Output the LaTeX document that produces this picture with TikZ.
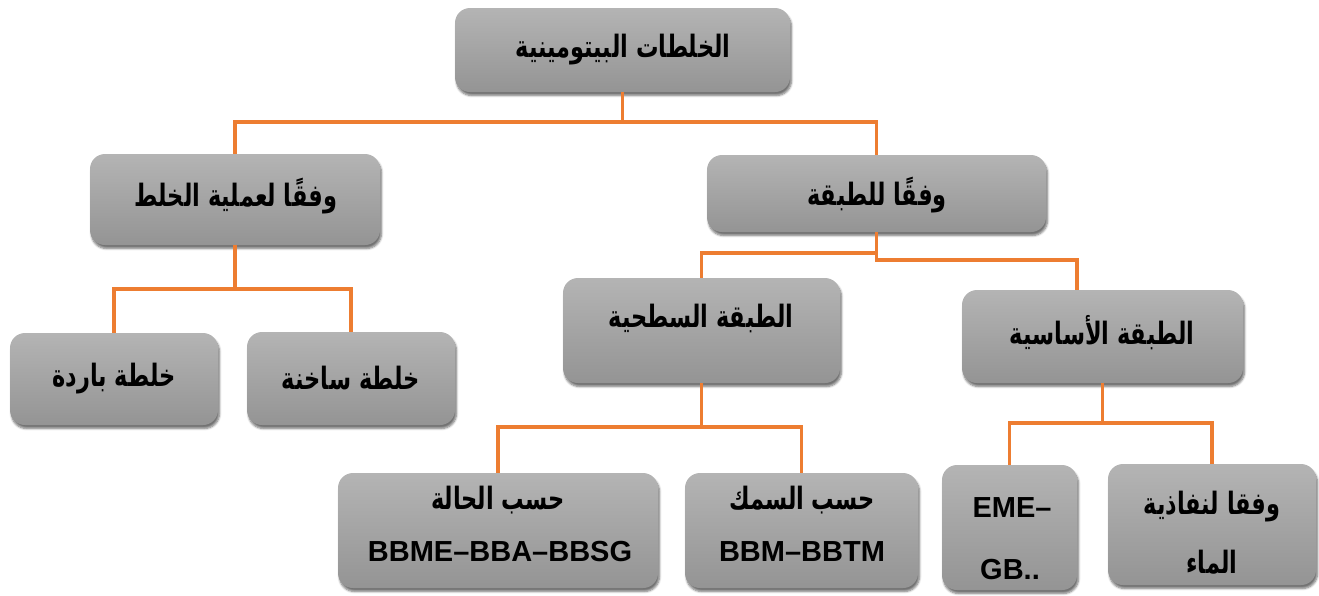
\documentclass[tikz,border=0pt]{standalone}
\usepackage{fontspec}
\setmainfont{Liberation Sans}
\newfontfamily\arabicfont[Script=Arabic]{DejaVu Sans}
\TeXXeTstate=1
\usetikzlibrary{shadows.blur}
\definecolor{linkorange}{RGB}{237,125,49}
\definecolor{boxtop}{RGB}{180,180,180}
\definecolor{boxbottom}{RGB}{148,148,148}
% Arabic label: bold, right to left, slightly taller letter forms
\newcommand{\ar}[1]{\scalebox{1.02}[1.4]{\arabicfont\bfseries\beginR #1\endR}}
\tikzset{
  card/.style={rounded corners=15pt, top color=boxtop, bottom color=boxbottom,
    draw=none, inner sep=0pt,
    blur shadow={shadow xshift=1.5pt, shadow yshift=-3.5pt, shadow blur steps=6, shadow opacity=55}},
  label/.style={font=\fontsize{22}{26}\selectfont, text=black, inner sep=0pt},
  latin/.style={font=\fontsize{29}{32}\selectfont\bfseries, text=black, inner sep=0pt},
  link/.style={draw=linkorange, line width=3.5pt}
}
\begin{document}
\begin{tikzpicture}[x=1pt,y=-1pt]
\useasboundingbox (0,0) rectangle (1319,595);

% boxes
\node[card, minimum width=335pt, minimum height=84pt]  (top)   at (622.5,50) {};
\node[card, minimum width=290pt, minimum height=91pt]  (mixp)  at (235,199.5) {};
\node[card, minimum width=339pt, minimum height=77pt]  (layer) at (876.5,193.5) {};
\node[card, minimum width=208pt, minimum height=92pt]  (cold)  at (114,379) {};
\node[card, minimum width=208pt, minimum height=93pt]  (hot)   at (351,378.5) {};
\node[card, minimum width=277pt, minimum height=105pt] (surf)  at (701.5,330.5) {};
\node[card, minimum width=281pt, minimum height=93pt]  (base)  at (1102.5,336.5) {};
\node[card, minimum width=320pt, minimum height=115pt] (state) at (498,530.5) {};
\node[card, minimum width=233pt, minimum height=115pt] (thick) at (801.5,530.5) {};
\node[card, minimum width=135pt, minimum height=125pt] (eme)   at (1009.5,527.5) {};
\node[card, minimum width=208pt, minimum height=121pt] (perm)  at (1212,524.5) {};

% connectors
\draw[link] (top.south) -- (top.south |- 0,122) -| (mixp.north);
\draw[link] (top.south |- 0,122) -| (layer.north);
\draw[link] (mixp.south) -- (mixp.south |- 0,289) -| (cold.north);
\draw[link] (mixp.south |- 0,289) -| (hot.north);
\draw[link] (layer.south) -- (layer.south |- 0,260) -- (1077,260) -- (base.north -| 1077,0);
\draw[link] (layer.south |- 0,253) -| (surf.north);
\draw[link] (surf.south) -- (surf.south |- 0,427) -| (state.north);
\draw[link] (surf.south |- 0,427) -| (thick.north);
\draw[link] (base.south) -- (base.south |- 0,423) -| (eme.north);
\draw[link] (base.south |- 0,423) -| (perm.north);

% labels
\node[label] (ttop)   at (623,50)   {\ar{الخلطات البيتومينية}};
\node[label] (tmixp)  at (236,196)  {\ar{وفقًا لعملية الخلط}};
\node[label] (tlayer) at (877,195)  {\ar{وفقًا للطبقة}};
\node[label] (tcold)  at (114,379)  {\ar{خلطة باردة}};
\node[label] (thot)   at (351,378)  {\ar{خلطة ساخنة}};
\node[label] (tsurf)  at (701,318)  {\ar{الطبقة السطحية}};
\node[label] (tbase)  at (1102,333) {\ar{الطبقة الأساسية}};
\node[label] (tstate) at (498,500)  {\ar{حسب الحالة}};
\node[latin] (cstate) at (500,552)  {BBME–BBA–BBSG};
\node[label] (tthick) at (802,500)  {\ar{حسب السمك}};
\node[latin] (cthick) at (802,552)  {BBM–BBTM};
\node[latin] (ceme1)  at (1012,508) {EME–};
\node[latin] (ceme2)  at (1010,570) {GB..};
\node[label] (tperm1) at (1212,507) {\ar{وفقا لنفاذية}};
\node[label] (tperm2) at (1212,562) {\ar{الماء}};
\end{tikzpicture}
\end{document}
